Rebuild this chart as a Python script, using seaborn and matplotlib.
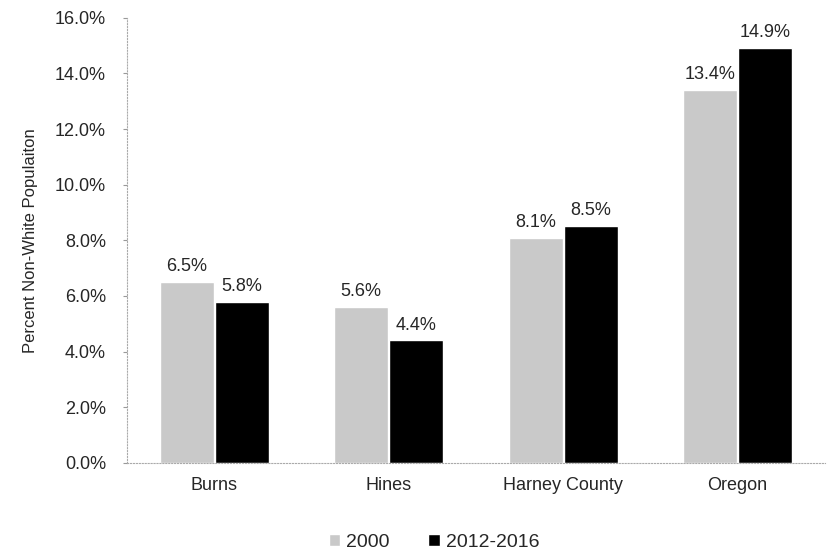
import matplotlib
matplotlib.use("Agg")
import matplotlib.pyplot as plt
import seaborn as sns
import pandas as pd
from matplotlib.ticker import PercentFormatter

places = ["Burns", "Hines", "Harney County", "Oregon"]
periods = ["2000", "2012-2016"]
pct_2000 = [6.5, 5.6, 8.1, 13.4]
pct_2012_2016 = [5.8, 4.4, 8.5, 14.9]
y_ticks = [0, 2, 4, 6, 8, 10, 12, 14, 16]

df = pd.DataFrame({
    "place": places * 2,
    "period": [periods[0]] * 4 + [periods[1]] * 4,
    "pct": pct_2000 + pct_2012_2016,
})

sns.set_style("white")
plt.rcParams["font.family"] = ["Liberation Sans", "DejaVu Sans"]

fig = plt.figure(figsize=(8.29, 5.55), dpi=100)
ax = fig.add_axes([0.153, 0.166, 0.842, 0.802])

sns.barplot(data=df, x="place", y="pct", hue="period", order=places,
            hue_order=periods, palette=["#c9c9c9", "#000000"],
            width=0.63, gap=0.02, ax=ax, legend=True)

for c in ax.containers:
    ax.bar_label(c, fmt="%.1f%%", padding=5, fontsize=13)

ax.set_ylim(0, 16)
ax.set_yticks(y_ticks)
ax.yaxis.set_major_formatter(PercentFormatter(decimals=1))
ax.set_xlabel("")
ax.set_ylabel("Percent Non-White Populaiton", fontsize=12, labelpad=12)
ax.tick_params(axis="y", labelsize=13, length=3, pad=12, color="#999999", left=True)
ax.tick_params(axis="x", labelsize=13, length=0, pad=10)

for s in ["top", "right"]:
    ax.spines[s].set_visible(False)
ax.spines["left"].set_color("#aaaaaa")
ax.spines["left"].set_linestyle(":")
ax.spines["bottom"].set_color("#aaaaaa")
ax.spines["bottom"].set_linestyle(":")

ax.legend(loc="upper center", bbox_to_anchor=(0.44, -0.12), ncol=2,
          frameon=False, fontsize=14, handlelength=0.6, handleheight=0.6,
          handletextpad=0.3, columnspacing=2.0)

fig.savefig("out.png", dpi=100)
